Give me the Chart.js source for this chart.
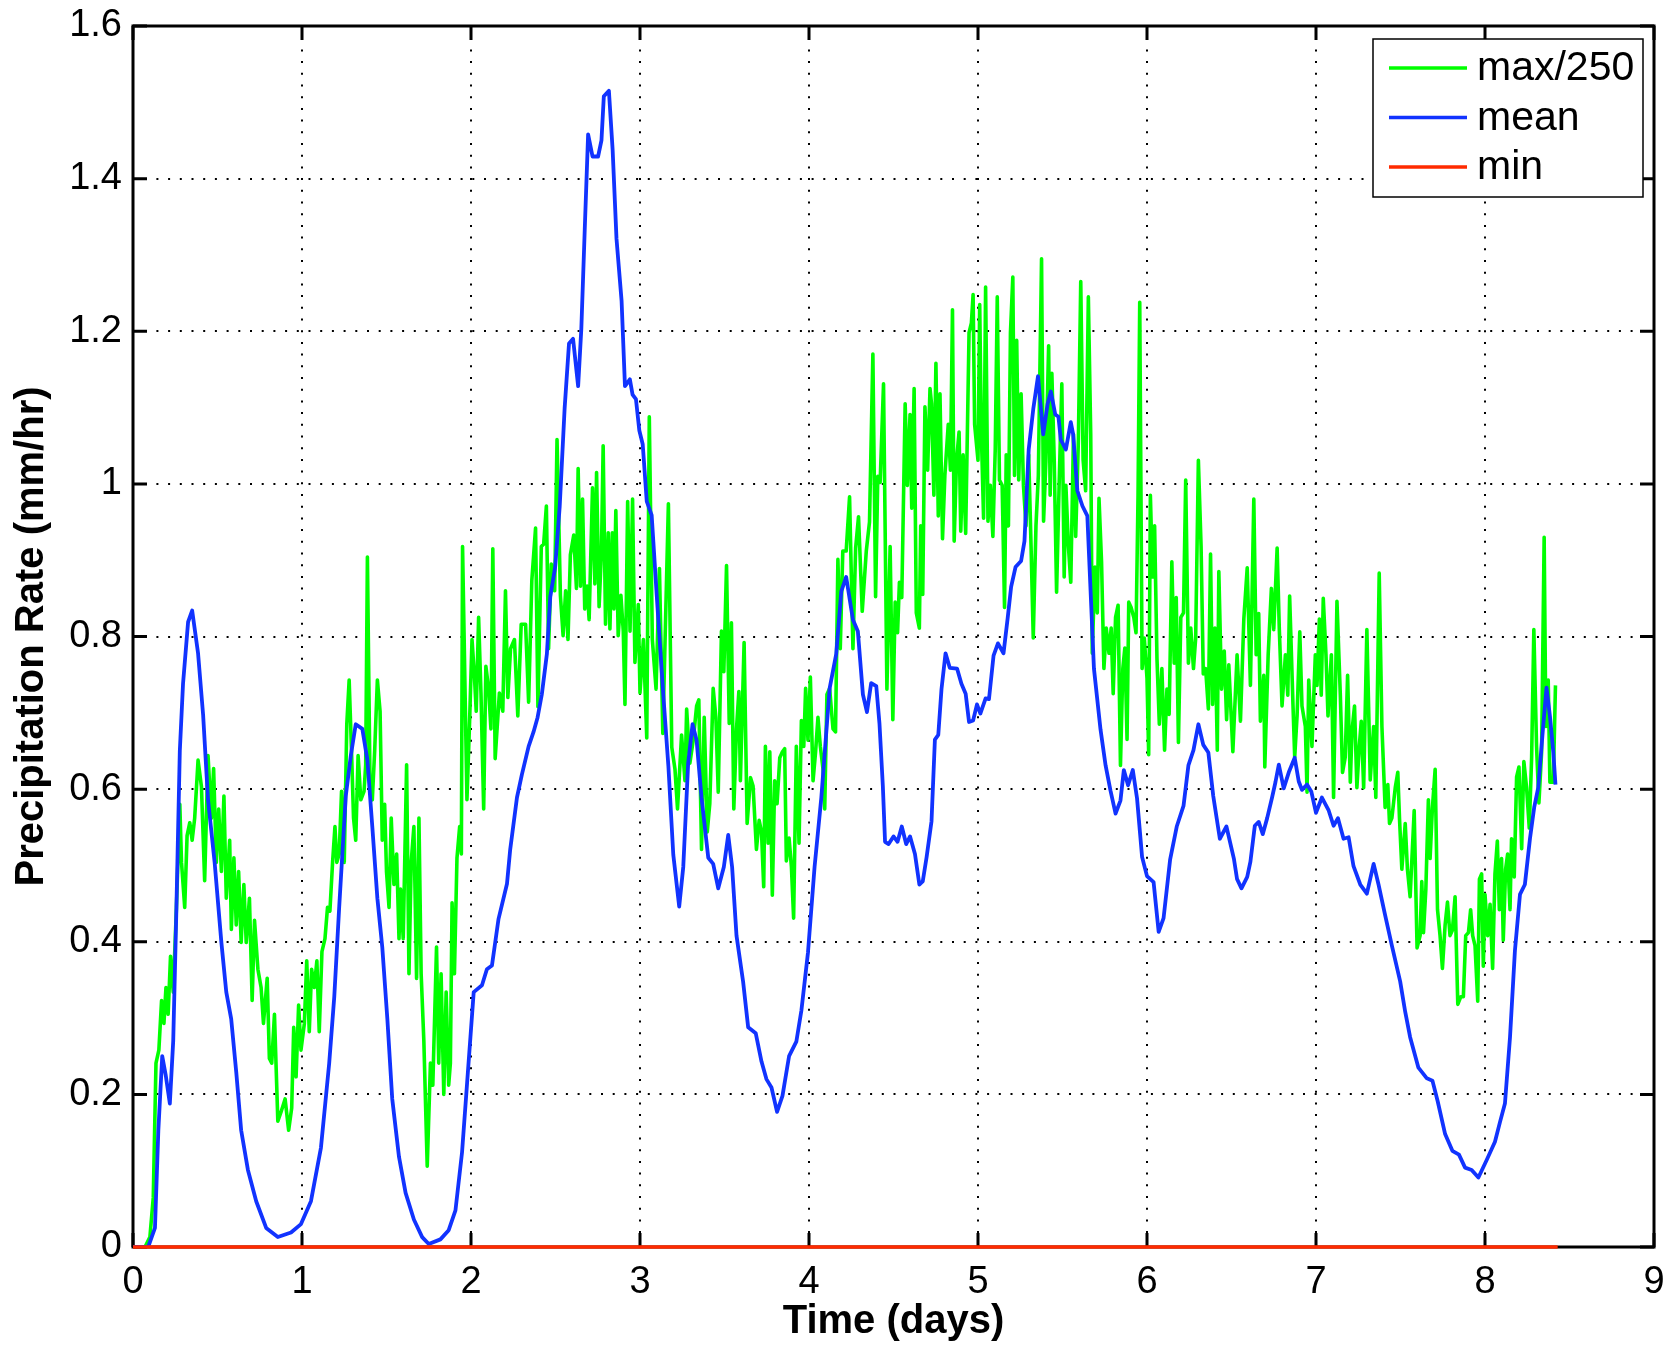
<!DOCTYPE html>
<html>
<head>
<meta charset="utf-8">
<script src="https://cdn.jsdelivr.net/npm/chart.js@4.4.1/dist/chart.umd.min.js"></script>
<style>
  html, body { margin: 0; padding: 0; background: #fff; }
  #wrap { width: 1671px; height: 1346px; }
</style>
</head>
<body>
<div id="wrap"><canvas id="chart" width="1671" height="1346"></canvas></div>
<script>
// values (time in days, rate in mm/hr)
const xTickLabels = ['0', '1', '2', '3', '4', '5', '6', '7', '8', '9'];
const yTickLabels = ['0', '0.2', '0.4', '0.6', '0.8', '1', '1.2', '1.4', '1.6'];
const seriesLabels = ['max/250', 'mean', 'min'];

const meanDays = [
  0, 0.09, 0.13, 0.15, 0.173, 0.193, 0.218, 0.238, 0.257, 0.277, 0.296, 0.326, 0.35, 0.385, 0.415, 0.444,
  0.483, 0.523, 0.552, 0.581, 0.611, 0.64, 0.68, 0.729, 0.788, 0.857, 0.935, 0.994, 1.053, 1.112, 1.161, 1.191,
  1.22, 1.259, 1.289, 1.318, 1.357, 1.387, 1.416, 1.446, 1.475, 1.505, 1.534, 1.574, 1.613, 1.662, 1.711, 1.75,
  1.819, 1.868, 1.908, 1.947, 1.976, 2.016, 2.065, 2.094, 2.124, 2.163, 2.213, 2.232, 2.272, 2.301, 2.341, 2.37,
  2.394, 2.419, 2.449, 2.469, 2.498, 2.525, 2.554, 2.58, 2.604, 2.634, 2.653, 2.673, 2.693, 2.719, 2.752, 2.772,
  2.786, 2.816, 2.838, 2.861, 2.891, 2.911, 2.94, 2.956, 2.976, 2.996, 3.016, 3.04, 3.069, 3.099, 3.139, 3.168,
  3.197, 3.232, 3.256, 3.285, 3.311, 3.335, 3.364, 3.404, 3.433, 3.463, 3.496, 3.522, 3.545, 3.571, 3.61, 3.64,
  3.685, 3.719, 3.748, 3.778, 3.811, 3.843, 3.882, 3.925, 3.955, 3.994, 4.033, 4.073, 4.122, 4.161, 4.191, 4.22,
  4.26, 4.289, 4.319, 4.343, 4.368, 4.398, 4.417, 4.437, 4.45, 4.471, 4.5, 4.524, 4.549, 4.575, 4.598, 4.627,
  4.653, 4.673, 4.696, 4.725, 4.745, 4.765, 4.784, 4.808, 4.833, 4.876, 4.902, 4.927, 4.947, 4.971, 4.994, 5.014,
  5.045, 5.065, 5.092, 5.118, 5.151, 5.176, 5.196, 5.222, 5.255, 5.275, 5.3, 5.327, 5.355, 5.386, 5.412, 5.431,
  5.457, 5.476, 5.49, 5.52, 5.549, 5.563, 5.588, 5.618, 5.647, 5.686, 5.725, 5.755, 5.784, 5.814, 5.843, 5.863,
  5.888, 5.916, 5.941, 5.971, 6.0, 6.039, 6.069, 6.098, 6.137, 6.176, 6.216, 6.245, 6.275, 6.304, 6.333, 6.363,
  6.392, 6.431, 6.47, 6.514, 6.533, 6.559, 6.593, 6.612, 6.638, 6.661, 6.685, 6.711, 6.74, 6.76, 6.78, 6.809,
  6.839, 6.874, 6.898, 6.917, 6.947, 6.972, 7.0, 7.035, 7.075, 7.104, 7.13, 7.163, 7.193, 7.222, 7.262, 7.301,
  7.341, 7.37, 7.409, 7.449, 7.498, 7.528, 7.557, 7.606, 7.656, 7.689, 7.72, 7.764, 7.807, 7.846, 7.882, 7.921,
  7.961, 8.01, 8.059, 8.089, 8.118, 8.148, 8.177, 8.207, 8.236, 8.266, 8.291, 8.315, 8.344, 8.364, 8.384, 8.404,
  8.417
];
const meanRate = [
  0, 0, 0.025, 0.153, 0.25, 0.226, 0.188, 0.27, 0.445, 0.65, 0.738, 0.819, 0.834, 0.778, 0.697, 0.586,
  0.504, 0.399, 0.334, 0.299, 0.229, 0.153, 0.101, 0.06, 0.025, 0.013, 0.019, 0.03, 0.06, 0.13, 0.241, 0.328,
  0.445, 0.591, 0.644, 0.685, 0.679, 0.638, 0.551, 0.457, 0.393, 0.299, 0.194, 0.118, 0.071, 0.036, 0.013, 0.004,
  0.01, 0.022, 0.048, 0.124, 0.212, 0.334, 0.343, 0.364, 0.369, 0.43, 0.476, 0.521, 0.589, 0.619, 0.656, 0.675,
  0.694, 0.724, 0.777, 0.852, 0.891, 0.971, 1.099, 1.184, 1.19, 1.128, 1.204, 1.333, 1.458, 1.429, 1.429, 1.45,
  1.508, 1.515, 1.438, 1.321, 1.24, 1.128, 1.137, 1.117, 1.111, 1.07, 1.052, 0.977, 0.959, 0.854, 0.72, 0.63,
  0.514, 0.446, 0.498, 0.634, 0.685, 0.664, 0.589, 0.51, 0.502, 0.47, 0.498, 0.54, 0.498, 0.408, 0.348, 0.288,
  0.28, 0.243, 0.22, 0.209, 0.177, 0.198, 0.25, 0.269, 0.31, 0.386, 0.498, 0.589, 0.732, 0.777, 0.859, 0.878,
  0.822, 0.807, 0.724, 0.701, 0.739, 0.735, 0.686, 0.604, 0.531, 0.528, 0.538, 0.531, 0.551, 0.528, 0.538, 0.515,
  0.475, 0.479, 0.511, 0.558, 0.665, 0.671, 0.731, 0.778, 0.759, 0.758, 0.738, 0.725, 0.688, 0.69, 0.711, 0.699,
  0.719, 0.718, 0.775, 0.791, 0.778, 0.825, 0.865, 0.891, 0.899, 0.925, 1.045, 1.098, 1.141, 1.065, 1.105, 1.121,
  1.091, 1.088, 1.058, 1.045, 1.081, 1.065, 0.991, 0.971, 0.958, 0.758, 0.678, 0.631, 0.598, 0.568, 0.585, 0.625,
  0.605, 0.625, 0.588, 0.511, 0.486, 0.478, 0.413, 0.431, 0.508, 0.551, 0.578, 0.631, 0.651, 0.685, 0.658, 0.648,
  0.591, 0.535, 0.551, 0.509, 0.482, 0.47, 0.485, 0.505, 0.552, 0.557, 0.541, 0.562, 0.589, 0.609, 0.632, 0.601,
  0.622, 0.641, 0.61, 0.599, 0.606, 0.597, 0.569, 0.589, 0.572, 0.552, 0.562, 0.535, 0.537, 0.499, 0.475, 0.463,
  0.502, 0.475, 0.435, 0.395, 0.348, 0.308, 0.275, 0.235, 0.221, 0.218, 0.191, 0.148, 0.126, 0.121, 0.104, 0.101,
  0.091, 0.114, 0.138, 0.164, 0.188, 0.275, 0.388, 0.462, 0.475, 0.535, 0.576, 0.602, 0.682, 0.733, 0.696, 0.649,
  0.606
];

const maxDays = [
  0, 0.071, 0.1, 0.12, 0.136, 0.153, 0.169, 0.183, 0.195, 0.208, 0.222, 0.238, 0.257, 0.277, 0.287, 0.306,
  0.32, 0.336, 0.35, 0.365, 0.385, 0.405, 0.424, 0.444, 0.464, 0.477, 0.493, 0.507, 0.523, 0.538, 0.552, 0.572,
  0.582, 0.597, 0.611, 0.625, 0.64, 0.656, 0.67, 0.689, 0.705, 0.719, 0.739, 0.758, 0.772, 0.794, 0.807, 0.821,
  0.837, 0.857, 0.876, 0.9, 0.921, 0.939, 0.951, 0.965, 0.98, 0.994, 1.014, 1.028, 1.043, 1.057, 1.073, 1.088,
  1.102, 1.118, 1.136, 1.151, 1.165, 1.181, 1.195, 1.206, 1.22, 1.234, 1.25, 1.265, 1.279, 1.293, 1.305, 1.318,
  1.332, 1.348, 1.367, 1.377, 1.387, 1.403, 1.416, 1.43, 1.446, 1.462, 1.475, 1.489, 1.5, 1.515, 1.528, 1.544,
  1.56, 1.574, 1.583, 1.599, 1.619, 1.633, 1.646, 1.662, 1.678, 1.692, 1.705, 1.721, 1.741, 1.76, 1.774, 1.796,
  1.809, 1.823, 1.839, 1.853, 1.868, 1.878, 1.888, 1.902, 1.917, 1.933, 1.943, 1.95, 1.976, 1.992, 2.006, 2.02,
  2.031, 2.045, 2.059, 2.075, 2.088, 2.104, 2.118, 2.129, 2.143, 2.168, 2.188, 2.204, 2.218, 2.234, 2.257, 2.277,
  2.297, 2.323, 2.341, 2.36, 2.382, 2.396, 2.416, 2.43, 2.446, 2.459, 2.475, 2.495, 2.509, 2.529, 2.545, 2.56,
  2.574, 2.588, 2.608, 2.624, 2.634, 2.648, 2.66, 2.673, 2.687, 2.699, 2.719, 2.733, 2.743, 2.758, 2.772, 2.782,
  2.796, 2.812, 2.822, 2.836, 2.846, 2.857, 2.871, 2.887, 2.901, 2.911, 2.927, 2.941, 2.956, 2.97, 2.99, 3.0,
  3.02, 3.04, 3.055, 3.073, 3.095, 3.115, 3.135, 3.149, 3.168, 3.188, 3.207, 3.222, 3.246, 3.266, 3.276, 3.295,
  3.315, 3.335, 3.348, 3.364, 3.38, 3.398, 3.413, 3.433, 3.449, 3.463, 3.482, 3.496, 3.512, 3.528, 3.541, 3.555,
  3.571, 3.585, 3.594, 3.616, 3.634, 3.654, 3.669, 3.689, 3.705, 3.719, 3.732, 3.742, 3.758, 3.768, 3.783, 3.797,
  3.811, 3.827, 3.843, 3.856, 3.866, 3.882, 3.896, 3.909, 3.925, 3.941, 3.955, 3.969, 3.98, 3.994, 4.008, 4.024,
  4.039, 4.053, 4.067, 4.083, 4.093, 4.106, 4.122, 4.142, 4.157, 4.171, 4.185, 4.2, 4.22, 4.24, 4.26, 4.276,
  4.293, 4.315, 4.339, 4.358, 4.378, 4.394, 4.407, 4.421, 4.441, 4.461, 4.48, 4.496, 4.51, 4.524, 4.535, 4.549,
  4.569, 4.582, 4.598, 4.608, 4.622, 4.635, 4.653, 4.661, 4.673, 4.686, 4.702, 4.716, 4.725, 4.739, 4.751, 4.765,
  4.775, 4.79, 4.804, 4.824, 4.837, 4.849, 4.859, 4.873, 4.888, 4.898, 4.912, 4.927, 4.947, 4.961, 4.971, 4.98,
  5.0, 5.01, 5.02, 5.033, 5.045, 5.059, 5.073, 5.088, 5.102, 5.114, 5.127, 5.143, 5.157, 5.167, 5.18, 5.192,
  5.206, 5.216, 5.229, 5.241, 5.255, 5.269, 5.284, 5.3, 5.314, 5.327, 5.343, 5.357, 5.376, 5.388, 5.402, 5.418,
  5.427, 5.437, 5.451, 5.465, 5.48, 5.496, 5.51, 5.52, 5.535, 5.549, 5.565, 5.578, 5.594, 5.608, 5.622, 5.637,
  5.653, 5.667, 5.676, 5.692, 5.706, 5.716, 5.731, 5.745, 5.759, 5.775, 5.788, 5.8, 5.814, 5.829, 5.843, 5.857,
  5.869, 5.882, 5.892, 5.906, 5.922, 5.935, 5.947, 5.957, 5.971, 5.984, 6.0, 6.01, 6.02, 6.033, 6.045, 6.059,
  6.073, 6.088, 6.104, 6.118, 6.131, 6.147, 6.161, 6.173, 6.186, 6.2, 6.216, 6.229, 6.245, 6.259, 6.275, 6.288,
  6.304, 6.32, 6.333, 6.347, 6.363, 6.376, 6.388, 6.402, 6.416, 6.425, 6.441, 6.457, 6.471, 6.484, 6.508, 6.533,
  6.553, 6.573, 6.593, 6.612, 6.632, 6.646, 6.661, 6.671, 6.691, 6.697, 6.717, 6.736, 6.75, 6.77, 6.783, 6.799,
  6.819, 6.833, 6.844, 6.864, 6.874, 6.888, 6.904, 6.917, 6.937, 6.947, 6.957, 6.976, 6.996, 7.006, 7.02, 7.031,
  7.043, 7.059, 7.071, 7.091, 7.104, 7.124, 7.144, 7.157, 7.173, 7.187, 7.203, 7.213, 7.228, 7.242, 7.256, 7.268,
  7.282, 7.301, 7.321, 7.341, 7.354, 7.374, 7.39, 7.409, 7.425, 7.435, 7.449, 7.469, 7.484, 7.494, 7.508, 7.528,
  7.541, 7.557, 7.581, 7.598, 7.616, 7.626, 7.636, 7.65, 7.665, 7.675, 7.689, 7.705, 7.719, 7.734, 7.748, 7.764,
  7.778, 7.793, 7.807, 7.823, 7.839, 7.857, 7.872, 7.886, 7.902, 7.915, 7.927, 7.941, 7.957, 7.967, 7.98, 7.99,
  8.0, 8.016, 8.03, 8.045, 8.059, 8.073, 8.085, 8.098, 8.108, 8.122, 8.134, 8.148, 8.157, 8.173, 8.187, 8.201,
  8.217, 8.23, 8.246, 8.262, 8.276, 8.289, 8.305, 8.319, 8.335, 8.35, 8.36, 8.374, 8.384, 8.404, 8.417
];
const maxRate = [
  0, 0, 0.013, 0.065, 0.241, 0.258, 0.323, 0.293, 0.34, 0.305, 0.381, 0.334, 0.445, 0.58, 0.504, 0.445,
  0.539, 0.556, 0.533, 0.562, 0.638, 0.603, 0.48, 0.644, 0.562, 0.627, 0.504, 0.574, 0.492, 0.591, 0.457, 0.533,
  0.416, 0.51, 0.422, 0.492, 0.399, 0.475, 0.399, 0.457, 0.323, 0.428, 0.364, 0.34, 0.293, 0.352, 0.247, 0.241,
  0.305, 0.165, 0.177, 0.194, 0.153, 0.182, 0.288, 0.223, 0.317, 0.258, 0.293, 0.375, 0.282, 0.364, 0.34, 0.375,
  0.282, 0.387, 0.404, 0.445, 0.44, 0.504, 0.551, 0.504, 0.515, 0.597, 0.504, 0.685, 0.743, 0.65, 0.562, 0.533,
  0.644, 0.586, 0.597, 0.632, 0.904, 0.597, 0.586, 0.65, 0.743, 0.702, 0.533, 0.58, 0.492, 0.445, 0.562, 0.475,
  0.515, 0.404, 0.469, 0.404, 0.632, 0.358, 0.504, 0.551, 0.352, 0.562, 0.358, 0.27, 0.106, 0.241, 0.212, 0.393,
  0.241, 0.358, 0.2, 0.334, 0.212, 0.241, 0.451, 0.358, 0.51, 0.551, 0.515, 0.918, 0.586, 0.691, 0.796, 0.749,
  0.702, 0.825, 0.726, 0.574, 0.761, 0.732, 0.679, 0.915, 0.64, 0.726, 0.702, 0.86, 0.72, 0.784, 0.796, 0.696,
  0.816, 0.816, 0.714, 0.874, 0.942, 0.708, 0.918, 0.921, 0.971, 0.784, 0.895, 0.86, 1.058, 0.854, 0.801, 0.86,
  0.796, 0.907, 0.933, 0.863, 1.02, 0.866, 0.98, 0.836, 0.866, 0.822, 0.995, 0.869, 1.015, 0.839, 0.912, 1.05,
  0.816, 0.936, 0.81, 0.936, 0.836, 0.965, 0.801, 0.854, 0.807, 0.711, 0.977, 0.807, 0.98, 0.766, 0.842, 0.726,
  0.796, 0.667, 1.088, 0.796, 0.731, 0.889, 0.673, 0.801, 0.974, 0.655, 0.626, 0.574, 0.671, 0.611, 0.705, 0.634,
  0.664, 0.709, 0.717, 0.521, 0.694, 0.544, 0.581, 0.732, 0.694, 0.596, 0.807, 0.754, 0.893, 0.686, 0.818, 0.574,
  0.679, 0.728, 0.611, 0.792, 0.555, 0.615, 0.604, 0.521, 0.559, 0.544, 0.472, 0.656, 0.529, 0.649, 0.461, 0.611,
  0.581, 0.641, 0.649, 0.653, 0.506, 0.536, 0.498, 0.431, 0.656, 0.529, 0.69, 0.656, 0.732, 0.664, 0.747, 0.611,
  0.649, 0.694, 0.656, 0.626, 0.574, 0.724, 0.732, 0.679, 0.675, 0.901, 0.784, 0.912, 0.912, 0.983, 0.784, 0.916,
  0.957, 0.833, 0.912, 0.95, 1.17, 0.852, 1.01, 1.002, 1.131, 0.731, 0.918, 0.691, 0.845, 0.805, 0.871, 0.851,
  1.105, 0.998, 1.091, 0.968, 1.125, 0.831, 0.811, 0.945, 0.855, 1.101, 1.018, 1.125, 1.105, 0.985, 1.158, 0.958,
  1.118, 0.928, 1.011, 1.078, 1.018, 1.228, 0.925, 1.031, 1.068, 0.938, 1.038, 0.935, 1.198, 1.211, 1.248, 1.078,
  1.031, 1.235, 1.065, 0.955, 1.258, 0.951, 0.998, 0.931, 1.045, 1.245, 1.005, 0.998, 0.838, 1.038, 0.945, 1.198,
  1.271, 1.011, 1.188, 1.005, 1.118, 0.998, 0.945, 1.038, 0.918, 0.798, 0.945, 1.011, 1.295, 0.951, 1.031, 1.181,
  0.985, 1.145, 1.031, 0.858, 0.998, 1.131, 0.878, 0.998, 0.918, 0.871, 1.065, 0.931, 1.058, 1.265, 1.031, 0.991,
  1.245, 1.065, 0.778, 0.891, 0.831, 0.981, 0.898, 0.758, 0.811, 0.778, 0.811, 0.725, 0.825, 0.841, 0.631, 0.758,
  0.785, 0.665, 0.845, 0.838, 0.825, 0.805, 0.985, 1.238, 0.758, 0.798, 0.745, 0.645, 0.985, 0.878, 0.945, 0.771,
  0.685, 0.758, 0.651, 0.731, 0.698, 0.898, 0.765, 0.851, 0.661, 0.825, 0.831, 1.005, 0.765, 0.811, 0.758, 0.798,
  1.031, 0.918, 0.751, 0.758, 0.705, 0.908, 0.711, 0.811, 0.651, 0.885, 0.731, 0.781, 0.691, 0.763, 0.649, 0.776,
  0.689, 0.823, 0.89, 0.736, 0.98, 0.776, 0.83, 0.689, 0.749, 0.629, 0.776, 0.863, 0.809, 0.916, 0.809, 0.709,
  0.776, 0.723, 0.853, 0.709, 0.642, 0.696, 0.806, 0.709, 0.682, 0.596, 0.743, 0.656, 0.776, 0.736, 0.823, 0.723,
  0.85, 0.776, 0.696, 0.776, 0.589, 0.846, 0.723, 0.622, 0.642, 0.749, 0.609, 0.676, 0.709, 0.602, 0.656, 0.689,
  0.602, 0.809, 0.612, 0.682, 0.589, 0.883, 0.682, 0.576, 0.606, 0.555, 0.562, 0.602, 0.622, 0.562, 0.495, 0.555,
  0.495, 0.459, 0.572, 0.392, 0.408, 0.479, 0.412, 0.469, 0.586, 0.509, 0.576, 0.626, 0.442, 0.408, 0.365, 0.422,
  0.452, 0.408, 0.415, 0.459, 0.318, 0.328, 0.328, 0.408, 0.412, 0.442, 0.408, 0.395, 0.322, 0.482, 0.489, 0.368,
  0.462, 0.408, 0.449, 0.365, 0.489, 0.532, 0.442, 0.509, 0.402, 0.495, 0.515, 0.442, 0.535, 0.485, 0.616, 0.629,
  0.522, 0.636, 0.602, 0.549, 0.642, 0.809, 0.656, 0.582, 0.649, 0.93, 0.682, 0.743, 0.609, 0.609, 0.736
];

const minDays = [0, 8.43];
const minRate = [0, 0];

const xTicks = [0, 1, 2, 3, 4, 5, 6, 7, 8, 9];
const yTicks = [0, 0.2, 0.4, 0.6, 0.8, 1, 1.2, 1.4, 1.6];

const COLORS = { max: '#00ff00', mean: '#1133ff', min: '#ff2a00' };
const FONT = 'Liberation Sans, Arial, Helvetica, sans-serif';

const toPoints = (xs, ys) => xs.map((x, i) => ({ x, y: ys[i] }));

// box around the axes with inward ticks, MATLAB style
const framePlugin = {
  id: 'frame',
  beforeDatasetsDraw(chart) {
    const { ctx, chartArea: a, scales: { x, y } } = chart;
    ctx.save();
    ctx.strokeStyle = '#000';
    ctx.lineWidth = 3;
    ctx.strokeRect(a.left, a.top, a.right - a.left, a.bottom - a.top);
    ctx.beginPath();
    const len = 14;
    xTicks.forEach((v) => {
      const px = x.getPixelForValue(v);
      ctx.moveTo(px, a.bottom); ctx.lineTo(px, a.bottom - len);
      ctx.moveTo(px, a.top); ctx.lineTo(px, a.top + len);
    });
    yTicks.forEach((v) => {
      const py = y.getPixelForValue(v);
      ctx.moveTo(a.left, py); ctx.lineTo(a.left + len, py);
      ctx.moveTo(a.right, py); ctx.lineTo(a.right - len, py);
    });
    ctx.stroke();
    ctx.restore();
  },
};

// legend box in the upper-right corner of the axes
const legendPlugin = {
  id: 'boxLegend',
  afterDraw(chart) {
    const { ctx, chartArea: a } = chart;
    const w = 270, h = 158;
    const left = a.right - 11 - w, top = a.top + 13;
    ctx.save();
    ctx.fillStyle = '#fff';
    ctx.fillRect(left, top, w, h);
    ctx.strokeStyle = '#000';
    ctx.lineWidth = 1.5;
    ctx.strokeRect(left, top, w, h);
    const colors = [COLORS.max, COLORS.mean, COLORS.min];
    ctx.font = `41px ${FONT}`;
    ctx.textBaseline = 'middle';
    ctx.fillStyle = '#000';
    seriesLabels.forEach((label, i) => {
      const yy = top + 29 + i * 49.5;
      ctx.strokeStyle = colors[i];
      ctx.lineWidth = 3.5;
      ctx.beginPath();
      ctx.moveTo(left + 16, yy);
      ctx.lineTo(left + 94, yy);
      ctx.stroke();
      ctx.fillText(label, left + 104, yy + 1);
    });
    ctx.restore();
  },
};

Chart.defaults.font.family = FONT;
Chart.defaults.color = '#000';

new Chart(document.getElementById('chart'), {
  type: 'line',
  data: {
    datasets: [
      { label: seriesLabels[2], data: toPoints(minDays, minRate), borderColor: COLORS.min, borderWidth: 3.5, clip: false },
      { label: seriesLabels[1], data: toPoints(meanDays, meanRate), borderColor: COLORS.mean, borderWidth: 3.8 },
      { label: seriesLabels[0], data: toPoints(maxDays, maxRate), borderColor: COLORS.max, borderWidth: 3.6 },
    ].map((d) => ({ ...d, pointRadius: 0, tension: 0, fill: false, borderJoinStyle: 'round' })),
  },
  options: {
    responsive: false,
    animation: false,
    events: [],
    layout: { padding: { top: 26, right: 17, left: 0, bottom: 0 } },
    plugins: { legend: { display: false }, tooltip: { enabled: false } },
    scales: {
      x: {
        type: 'linear',
        min: 0,
        max: 9,
        afterFit: (s) => { s.height = 99; s.paddingLeft = 0; s.paddingRight = 0; },
        afterBuildTicks: (s) => { s.ticks = xTicks.map((value) => ({ value })); },
        ticks: {
          autoSkip: false,
          maxRotation: 0,
          padding: 13,
          font: { size: 38 },
          callback: (v) => xTickLabels[xTicks.indexOf(v)],
        },
        grid: { color: '#000', lineWidth: 2, drawTicks: false },
        border: { display: false, dash: [2, 9.7] },
        title: { display: true, text: 'Time (days)', font: { size: 40, weight: 'bold' }, padding: { top: 0, bottom: 0 } },
      },
      y: {
        type: 'linear',
        min: 0,
        max: 1.6,
        afterFit: (s) => { s.width = 133; s.paddingTop = 0; s.paddingBottom = 0; },
        afterBuildTicks: (s) => { s.ticks = yTicks.map((value) => ({ value })); },
        ticks: {
          autoSkip: false,
          padding: 11,
          font: { size: 38 },
          callback: (v) => yTickLabels[yTicks.indexOf(v)],
        },
        grid: { color: '#000', lineWidth: 2, drawTicks: false },
        border: { display: false, dash: [2, 9.7] },
        title: { display: true, text: 'Precipitation Rate (mm/hr)', font: { size: 40, weight: 'bold' }, padding: { top: 8, bottom: 0 } },
      },
    },
  },
  plugins: [framePlugin, legendPlugin],
});
</script>
</body>
</html>
